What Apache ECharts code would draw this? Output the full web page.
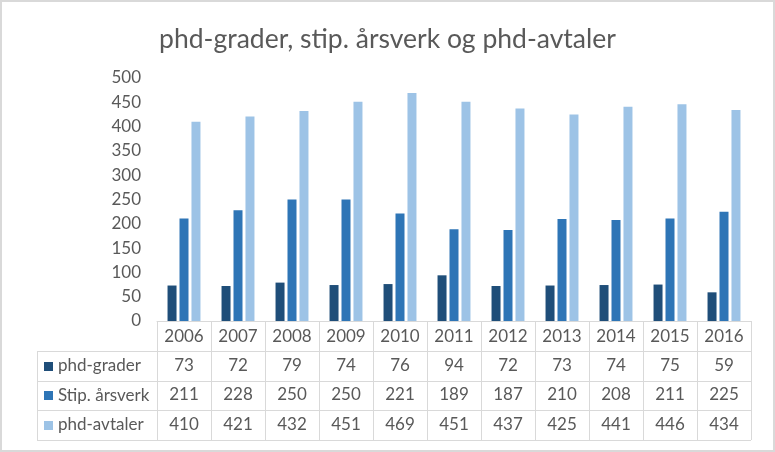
<!DOCTYPE html>
<html><head><meta charset="utf-8">
<script src="https://cdn.jsdelivr.net/npm/echarts@6/dist/echarts.min.js"></script>
<style>html,body{margin:0;padding:0;background:#fff}#c{width:775px;height:452px}</style>
</head><body><div id="c"></div>
<script>
const years = ['2006','2007','2008','2009','2010','2011','2012','2013','2014','2015','2016'];
const phdGrader = [73,72,79,74,76,94,72,73,74,75,59];
const stipArsverk = [211,228,250,250,221,189,187,210,208,211,225];
const phdAvtaler = [410,421,432,451,469,451,437,425,441,446,434];
const seriesNames = ['phd-grader','Stip. årsverk','phd-avtaler'];
const colors = ['#1f4e79','#2e75b6','#9dc3e6'];
const seriesData = [phdGrader, stipArsverk, phdAvtaler];

const FONT = 'Lato';
const TXT = '#595959';
const LINE = '#d9d9d9';
const FS = 17;
const G = {left:157, right:24, top:78, bottom:131};
const rowH = [30, 29.5, 29.5, 29.5];

const chart = echarts.init(document.getElementById('c'));
const xAxes = [{
  type:'category', data: years, gridIndex:0, boundaryGap:true,
  axisLine:{show:true, lineStyle:{color:LINE}},
  axisTick:{show:true, length:119, lineStyle:{color:LINE}},
  axisLabel:{color:TXT, fontFamily:FONT, fontSize:FS, margin:7}
}];
let off = rowH[0];
seriesData.forEach((d,i)=>{
  xAxes.push({
    type:'category', data: d.map(String), gridIndex:0, position:'bottom', offset: off,
    axisLine:{show:false}, axisTick:{show:false},
    axisLabel:{color:TXT, fontFamily:FONT, fontSize:FS, margin:6}
  });
  off += rowH[i+1];
});

const option = {
  animation:false,
  title:{text:'phd-grader, stip. årsverk og phd-avtaler', left:'center', top:21,
    textStyle:{color:TXT, fontFamily:FONT, fontSize:26.5, fontWeight:'normal'}},
  grid:G,
  xAxis: xAxes,
  yAxis:{type:'value', min:0, max:500, interval:50,
    axisLine:{show:false}, axisTick:{show:false}, splitLine:{show:false},
    axisLabel:{color:TXT, fontFamily:FONT, fontSize:FS, margin:16}},
  series: seriesData.map((d,i)=>({
    type:'bar', name:seriesNames[i], data:d, barWidth:9, barGap:'33%',
    itemStyle:{color:colors[i]}
  }))
};
chart.setOption(option);

const x1 = 775 - G.right, yAxisPix = 452 - G.bottom;
const leftX = 37;
const gfx = [];
gfx.push({type:'rect', shape:{x:1,y:1,width:773,height:450}, style:{fill:null, stroke:LINE, lineWidth:2}, silent:true});
let y = yAxisPix;
const rowYs = [y];
rowH.forEach(h=>{ y += h; rowYs.push(y); });
for (let r=1; r<rowYs.length; r++) {
  gfx.push({type:'line', shape:{x1:leftX, y1:Math.round(rowYs[r])+0.5, x2:x1, y2:Math.round(rowYs[r])+0.5}, style:{stroke:LINE, lineWidth:1}});
}
gfx.push({type:'line', shape:{x1:leftX+0.5, y1:Math.round(rowYs[1]), x2:leftX+0.5, y2:Math.round(rowYs[4])}, style:{stroke:LINE, lineWidth:1}});
seriesNames.forEach((n,i)=>{
  const cy = (rowYs[i+1]+rowYs[i+2])/2;
  gfx.push({type:'rect', shape:{x:44, y:Math.round(cy-4), width:9, height:9}, style:{fill:colors[i]}});
  gfx.push({type:'text', x:58, y:cy, style:{text:n, fill:TXT, font:FS+'px '+FONT, textVerticalAlign:'middle', verticalAlign:'middle'}});
});
chart.setOption({graphic:gfx});
</script></body></html>
